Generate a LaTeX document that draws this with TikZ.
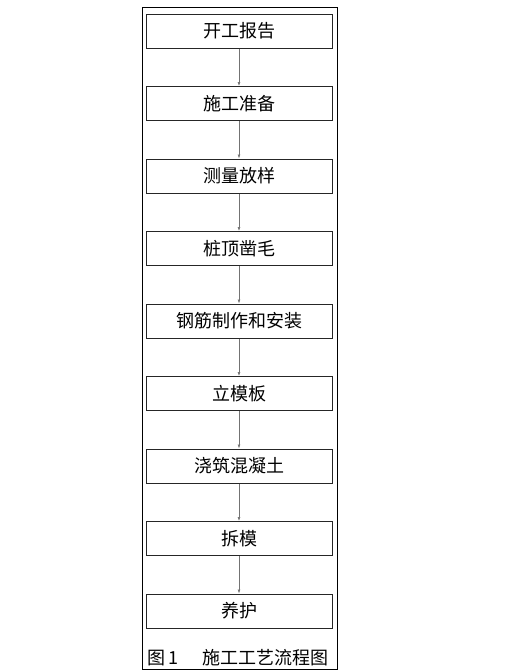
\documentclass[tikz,border=0pt]{standalone}
\usepackage{fontspec}
\setmainfont{Noto Sans CJK SC}
\usetikzlibrary{arrows.meta}
\tikzstyle{stepbox} = [draw=black!85, rectangle, line width=1pt, minimum width=186, minimum height=34, inner sep=0pt, font=\fontsize{18}{20}\selectfont]
\tikzstyle{caption} = [font=\fontsize{18}{20}\selectfont, inner sep=0pt]
\tikzstyle{path} = [-{Latex[length=4pt, width=3pt]}, black!55, line width=0.6pt]

\begin{document}
\begin{tikzpicture}[x=1pt, y=-1pt]
    \useasboundingbox (0, 0) rectangle (512, 670);

    % Outer frame.
    \draw [black, line width=0.9pt] (142, 7) rectangle (337, 669);

    % Steps.
    \foreach \name [count=\i] in {开工报告, 施工准备, 测量放样, 桩顶凿毛, 钢筋制作和安装, 立模板, 浇筑混凝土, 拆模, 养护} {
        \node (s\i) [stepbox] at (239, 31 + 72.5*\i - 72.5) {\name};
    }

    % Connections.
    \foreach \i in {1, ..., 8} {
        \pgfmathtruncatemacro{\j}{\i + 1}
        \draw [path] (s\i) -- (s\j);
    }

    % Caption.
    \node (fig) [caption, anchor=west] at (147, 658) {图\,1};
    \node (title) [caption, anchor=west] at (202, 658) {施工工艺流程图};
\end{tikzpicture}
\end{document}
